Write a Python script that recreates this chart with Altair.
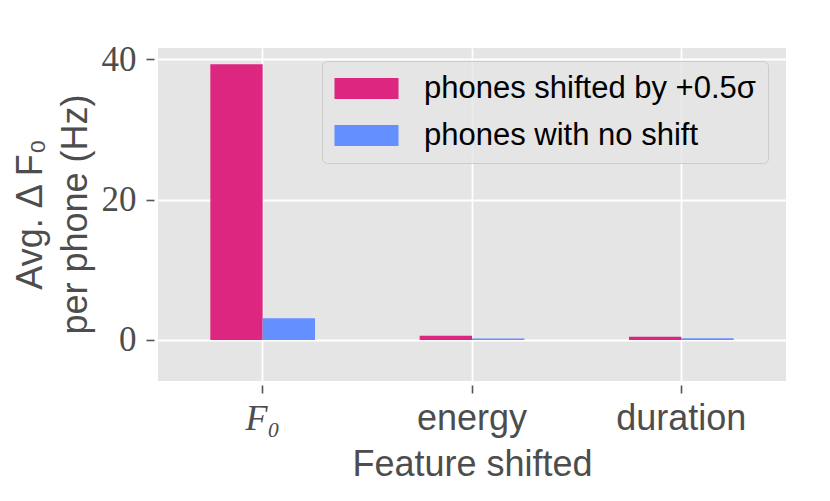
import altair as alt
import pandas as pd

features = ["F₀", "energy", "duration"]
groups = ["phones shifted by +0.5σ", "phones with no shift"]
shifted = [39.3, 0.6, 0.45]
no_shift = [3.1, 0.22, 0.25]
colors = ["#DC267F", "#648FFF"]

rows = []
for f, a, b in zip(features, shifted, no_shift):
    rows.append({"feature": f, "group": groups[0], "value": a})
    rows.append({"feature": f, "group": groups[1], "value": b})
df = pd.DataFrame(rows)

bars = alt.Chart(df).mark_bar(strokeWidth=0).encode(
    x=alt.X("feature:N", sort=features,
            scale=alt.Scale(paddingInner=0, paddingOuter=0),
            axis=alt.Axis(title="Feature shifted", labelAngle=0,
                          labelFont=alt.condition("datum.value == 'F₀'", alt.value("Liberation Serif"), alt.value("Liberation Sans")),
                          labelFontStyle=alt.condition("datum.value == 'F₀'", alt.value("italic"), alt.value("normal")),
                          labelFontSize=36, labelColor="#4d4d4d", labelPadding=8,
                          tickSize=8, tickColor="#555555", tickWidth=1.6, offset=4,
                          domain=False, grid=True, gridColor="white", gridWidth=1.8,
                          titleFont="Liberation Sans", titleFontSize=36, titleFontWeight="normal",
                          titleColor="#4d4d4d", titlePadding=11)),
    xOffset=alt.XOffset("group:N", sort=groups,
                        scale=alt.Scale(paddingInner=0, paddingOuter=1)),
    y=alt.Y("value:Q", scale=alt.Scale(domain=[-5.85, 41.6], nice=False, zero=False),
            axis=alt.Axis(values=[0, 20, 40], title=["Avg. Δ F₀", "per phone (Hz)"],
                          labelFont="Liberation Serif", labelFontSize=35, labelColor="#4d4d4d",
                          labelPadding=10, tickSize=8, tickColor="#555555", tickWidth=1.6, offset=4,
                          domain=False, grid=True, gridColor="white", gridWidth=1.8,
                          titleFont="Liberation Sans", titleFontSize=36, titleFontWeight="normal",
                          titleColor="#4d4d4d", titleLineHeight=45,
                          titleX=-141, titleY=166, titleAngle=270, titleAlign="center",
                          titleBaseline="top")),
    color=alt.Color("group:N", sort=groups,
                    scale=alt.Scale(domain=groups, range=colors),
                    legend=alt.Legend(title=None, orient="none", legendX=164, legendY=13,
                                      symbolType="M-1.364,-0.955H4.455V0.955H-1.364Z", symbolSize=484,
                                      symbolStrokeWidth=0, symbolOpacity=1,
                                      labelFont="Liberation Sans", labelFontSize=31,
                                      labelColor="black", labelOffset=59, rowPadding=15,
                                      padding=12, fillColor="rgba(229,229,229,0.8)",
                                      strokeColor="#cccccc", cornerRadius=5,
                                      labelLimit=600)),
).properties(width=628, height=333)

chart = bars.configure_view(fill="#E5E5E5", stroke=None).properties(
    autosize=alt.AutoSizeParams(type="none"),
    padding={"left": 150, "top": 40, "right": 36, "bottom": 112},
)

chart.save("out.html", embed_options={"renderer": "svg", "actions": False})
